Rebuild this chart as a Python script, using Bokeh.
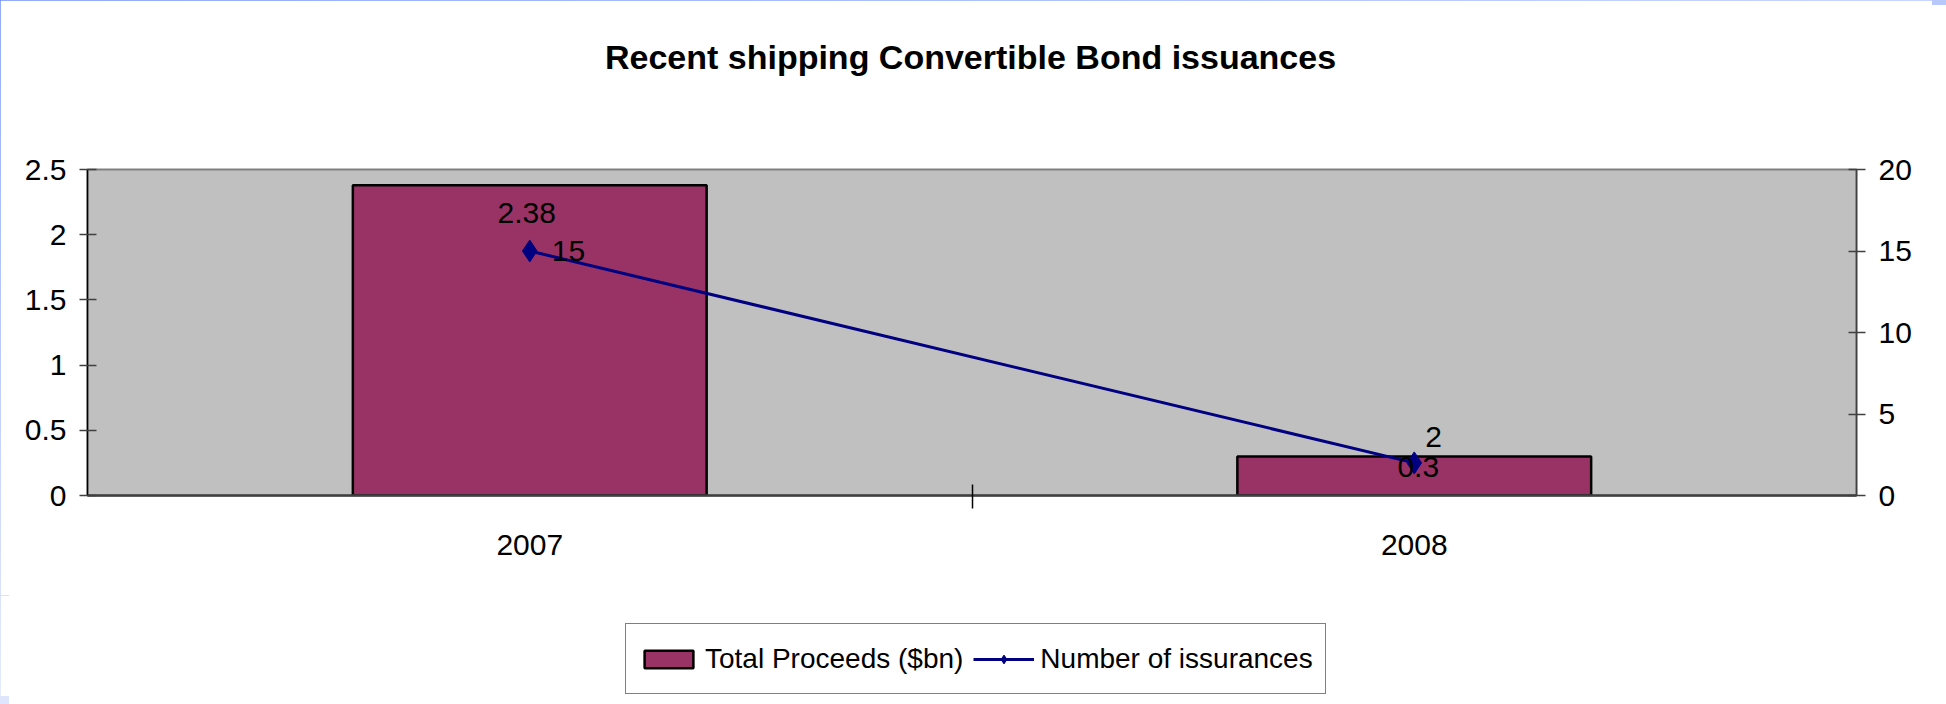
from bokeh.plotting import figure
from bokeh.layouts import column
from bokeh.models import (Range1d, LinearAxis, FixedTicker, Legend, LegendItem, Label)
from bokeh.core.properties import value
from bokeh.embed import file_html
from bokeh.resources import INLINE

# ---- data ----
years = ["2007", "2008"]
proceeds = [2.38, 0.3]          # Total Proceeds ($bn)
issuances = [15, 2]             # Number of issurances
left_ticks = [0, 0.5, 1, 1.5, 2, 2.5]
right_ticks = [0, 5, 10, 15, 20]
title_text = "Recent shipping Convertible Bond issuances"
bar_label = "Total Proceeds ($bn)"
line_label = "Number of issurances"

FONT = "Liberation Sans"
FS = "30px"
BAR = "#993366"
NAVY = "#000080"

xs = [i + 0.5 for i in range(len(years))]
bounds = [float(i) for i in range(1, len(years))]

p = figure(frame_width=1769, frame_height=326, output_backend="svg", toolbar_location=None,
           x_range=Range1d(0, len(years)), y_range=Range1d(0, 2.5),
           min_border_left=87, min_border_right=76, min_border_top=169,
           min_border_bottom=100)
p.extra_y_ranges = {"count": Range1d(0, 20)}

p.background_fill_color = "#C0C0C0"
p.border_fill_color = "white"
p.outline_line_color = "#808080"
p.outline_line_width = 2
p.xgrid.visible = False
p.ygrid.visible = False

# x axis
xa = p.xaxis[0]
xa.ticker = FixedTicker(ticks=xs, minor_ticks=bounds)
xa.major_label_overrides = {x: y for x, y in zip(xs, years)}
xa.major_tick_line_color = None
xa.major_tick_out = 13
xa.major_tick_in = 0
xa.minor_tick_line_color = "black"
xa.minor_tick_line_width = 1.5
xa.minor_tick_in = 11
xa.minor_tick_out = 13
xa.axis_line_color = "#404040"
xa.axis_line_width = 2.5
xa.major_label_standoff = 26
xa.major_label_text_font = FONT
xa.major_label_text_font_size = FS
xa.major_label_text_color = "black"

# left axis
ya = p.yaxis[0]
ya.ticker = FixedTicker(ticks=left_ticks)
ya.minor_tick_line_color = None
ya.major_tick_in = 9
ya.major_tick_out = 8
ya.major_tick_line_color = "#404040"
ya.major_tick_line_width = 1.5
ya.axis_line_color = "black"
ya.axis_line_width = 1.5
ya.major_label_standoff = 13
ya.major_label_text_font = FONT
ya.major_label_text_font_size = FS
ya.major_label_text_color = "black"

# right axis
ra = LinearAxis(y_range_name="count", ticker=FixedTicker(ticks=right_ticks))
ra.minor_tick_line_color = None
ra.major_tick_in = 8
ra.major_tick_out = 9
ra.major_tick_line_color = "#404040"
ra.major_tick_line_width = 1.5
ra.axis_line_color = "#404040"
ra.axis_line_width = 1.5
ra.major_label_standoff = 13
ra.major_label_text_font = FONT
ra.major_label_text_font_size = FS
ra.major_label_text_color = "black"
p.add_layout(ra, "right")

# bars
bar_style = dict(fill_color=BAR, line_color="black", line_width=2.5)
p.vbar(x=xs, top=proceeds, width=0.4, **bar_style)

# line + diamonds
line_style = dict(line_color=NAVY, line_width=3)
mark_style = dict(marker="diamond", size=22, fill_color=NAVY, line_color=NAVY)
p.line(x=xs, y=issuances, y_range_name="count", **line_style)
p.scatter(x=xs, y=issuances, y_range_name="count", **mark_style)

# data labels
p.text(x=xs, y=proceeds, text=[str(v) for v in proceeds],
       x_offset=[-3, 4], y_offset=[28, 11],
       text_align="center", text_baseline="middle",
       text_font=value(FONT), text_font_size=FS, text_color="black")
p.text(x=xs, y=issuances, y_range_name="count", text=[str(v) for v in issuances],
       x_offset=[22, 11], y_offset=[0, -26],
       text_align="left", text_baseline="middle",
       text_font=value(FONT), text_font_size=FS, text_color="black")

# title (in the top panel, screen units relative to that panel)
p.add_layout(Label(x=883, y=113, x_units="screen", y_units="screen", text=title_text,
                   text_align="center", text_baseline="middle", text_font=FONT,
                   text_font_size="34px", text_font_style="bold",
                   text_color="black"), "above")

# ---- legend strip (second figure below the chart) ----
q = figure(width=1932, height=101, output_backend="svg", toolbar_location=None,
           x_range=Range1d(0, 1), y_range=Range1d(0, 1),
           x_axis_type=None, y_axis_type=None, min_border=0)
q.grid.visible = False
q.outline_line_color = None
q.background_fill_color = "white"
q.border_fill_color = "white"
# hidden copies of the series, used only for the legend swatches
lb = q.vbar(x=xs, top=proceeds, width=0.4, visible=False, **bar_style)
ll = q.line(x=xs, y=issuances, visible=False, **line_style)
lm = q.scatter(x=xs, y=issuances, visible=False, **mark_style)

legend = Legend(items=[LegendItem(label=bar_label, renderers=[lb]),
                       LegendItem(label=line_label, renderers=[ll, lm])],
                orientation="horizontal", location=(538, 2),
                glyph_width=61, glyph_height=22, label_standoff=6, spacing=10,
                label_height=45, padding=12, margin=0,
                label_text_font=FONT, label_text_font_size="28px",
                label_text_color="black",
                inactive_fill_alpha=0,
                border_line_color="black", border_line_width=1.5,
                background_fill_color="white", background_fill_alpha=1)
q.add_layout(legend, "center")

page = column(p, q, spacing=0)

html = file_html(page, INLINE)
css = ("<style>html, body { background: "
       "linear-gradient(to bottom, #6e8ef7, #dfe6fc) 0 0 / 9px 100% no-repeat, "
       "linear-gradient(to right, #6e8ef7, #b8c8fb) 0 0 / 100% 5px no-repeat, "
       "white; }</style></head>")
html = html.replace("</head>", css, 1)
open("out.html", "w").write(html)
